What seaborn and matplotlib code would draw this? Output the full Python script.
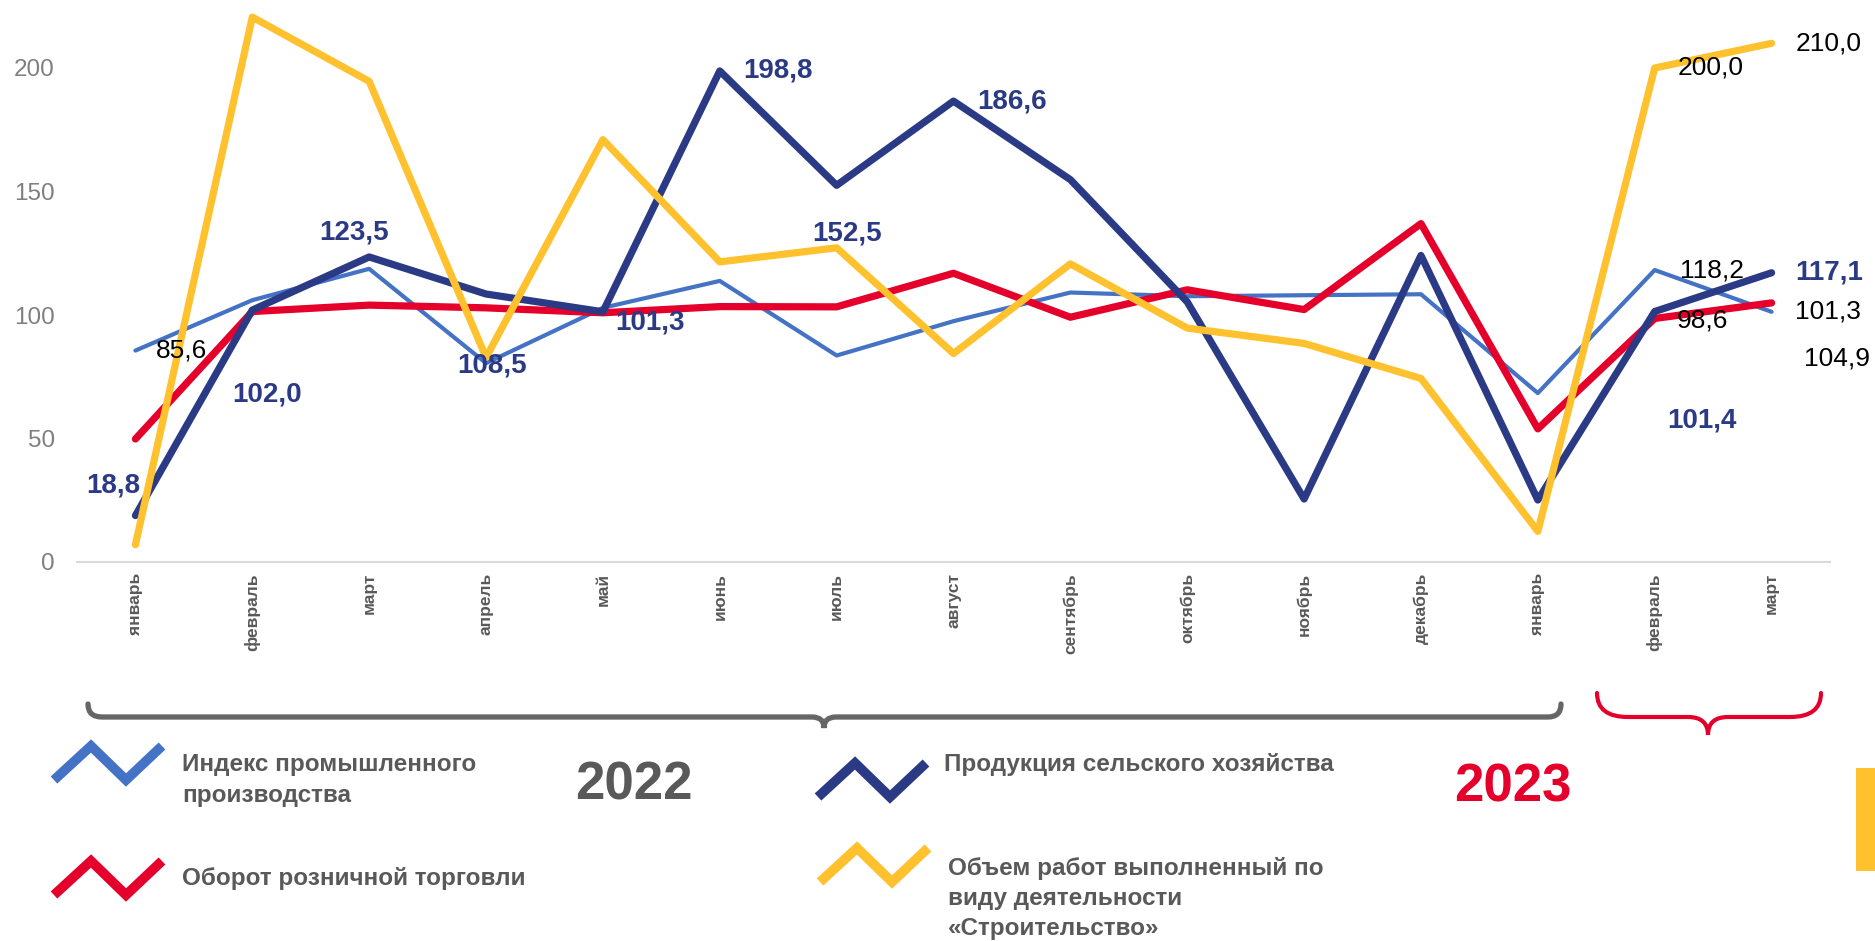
import matplotlib
matplotlib.use("Agg")
import matplotlib.pyplot as plt
import seaborn as sns
import pandas as pd
from matplotlib.lines import Line2D
from matplotlib.path import Path
from matplotlib.patches import PathPatch, Rectangle

# ---------------- data ----------------
months = ['январь', 'февраль', 'март', 'апрель', 'май', 'июнь', 'июль', 'август',
          'сентябрь', 'октябрь', 'ноябрь', 'декабрь', 'январь', 'февраль', 'март']
industrial = [85.6, 106.0, 118.7, 80.5, 102.9, 113.8, 83.6, 97.5, 109.1, 107.6, 108.0, 108.4, 68.4, 118.2, 101.3]
agriculture = [18.8, 102.0, 123.5, 108.5, 101.3, 198.8, 152.5, 186.6, 154.8, 105.3, 25.5, 124.1, 25.1, 101.4, 117.1]
retail = [49.8, 101.4, 104.0, 102.9, 100.9, 103.4, 103.3, 116.9, 99.1, 110.2, 102.2, 137.0, 53.9, 98.6, 104.9]
construction = [7.0, 220.6, 194.6, 82.8, 171.0, 121.5, 127.2, 84.4, 120.7, 94.7, 88.5, 74.3, 12.4, 200.0, 210.0]
yticks = [0, 50, 100, 150, 200]

legend_names = ['Индекс промышленного\nпроизводства', 'Продукция сельского хозяйства',
                'Оборот розничной торговли', 'Объем работ выполненный по\nвиду деятельности\n«Строительство»']
year_labels = ['2022', '2023']

# ---------------- style ----------------
sns.set_theme(style='white')
plt.rcParams['font.family'] = ['Liberation Sans', 'DejaVu Sans']

C_IND = '#4472C4'
C_AGR = '#2B3A85'
C_RET = '#E4002B'
C_CON = '#FFC22E'
C_GRAY = '#595959'

W, H = 1875, 941
fig = plt.figure(figsize=(W / 100, H / 100), dpi=100)
fig.patch.set_facecolor('white')

def fx(x):
    return x / W

def fy(y):
    return 1 - y / H

ax_left, ax_right, ax_zero_y = 77, 1830, 562
px_per_unit = 2.47
ymax = ax_zero_y / px_per_unit
ax = fig.add_axes([fx(ax_left), fy(ax_zero_y), (ax_right - ax_left) / W, ax_zero_y / H])
ax.set_facecolor('none')

pos = list(range(len(months)))
df = pd.DataFrame({'pos': pos, 'ind': industrial, 'agr': agriculture, 'ret': retail, 'con': construction})

series = [('ind', C_IND, 3.0, 2), ('ret', C_RET, 5.2, 3), ('agr', C_AGR, 5.2, 4), ('con', C_CON, 5.2, 5)]
for col, color, lw, z in series:
    sns.lineplot(data=df, x='pos', y=col, ax=ax, color=color, linewidth=lw, zorder=z,
                 clip_on=False, solid_joinstyle='round', solid_capstyle='round')

ax.set_xlim(-0.5, len(months) - 0.5)
ax.set_ylim(0, ymax)
ax.set_xticks(pos)
ax.set_xticklabels(months, rotation=90, fontsize=12.5, fontweight='bold', color=C_GRAY, va='top')
ax.set_yticks(yticks)
ax.set_yticklabels([str(t) for t in yticks], fontsize=17.5, color='#7F7F7F')
ax.tick_params(axis='x', length=0, pad=8)
ax.tick_params(axis='y', length=0, pad=16)
ax.set_xlabel('')
ax.set_ylabel('')
for s in ['top', 'right', 'left']:
    ax.spines[s].set_visible(False)
ax.spines['bottom'].set_color('#D9D9D9')
ax.spines['bottom'].set_linewidth(1.5)
ax.grid(False)

def fmt(v):
    return f"{v:.1f}".replace('.', ',')

# data labels: (values, index, dx, dy, bold-navy?)
labels = [
    (agriculture, 0, -22, 30, True), (agriculture, 1, 15, -84, True), (agriculture, 2, -15, 24, True),
    (agriculture, 3, 6, -71, True), (agriculture, 4, 47, -11, True), (agriculture, 5, 58, 0, True),
    (agriculture, 6, 10, -48, True), (agriculture, 7, 59, 0, True), (agriculture, 13, 47, -109, True),
    (agriculture, 14, 58, 0, True),
    (industrial, 0, 46, 0, False), (industrial, 13, 57, 0, False), (industrial, 14, 56, 0, False),
    (retail, 13, 48, -2, False), (retail, 14, 65, -56, False),
    (construction, 13, 56, 0, False), (construction, 14, 57, 0, False),
]
for vals, i, dx, dy, navy in labels:
    ax.annotate(fmt(vals[i]), xy=(i, vals[i]), xytext=(dx, dy), textcoords='offset pixels',
                ha='center', va='center', zorder=10, annotation_clip=False,
                fontsize=20 if navy else 19, fontweight='bold' if navy else 'normal',
                color=C_AGR if navy else 'black')

# ---------------- braces ----------------
def brace_path(pts, codes):
    verts = [(fx(x), fy(y)) for x, y in pts]
    return Path(verts, codes)

M, L, Q = Path.MOVETO, Path.LINETO, Path.CURVE3
brace_codes = [M, Q, Q, L, Q, Q, Q, Q, L, Q, Q]
gray_pts = [(88, 704), (88, 717), (102, 717), (812, 717), (824, 717), (824, 728),
            (824, 717), (836, 717), (1548, 717), (1561, 717), (1561, 704)]
fig.add_artist(PathPatch(brace_path(gray_pts, brace_codes), transform=fig.transFigure,
                         fill=False, edgecolor='#666666', linewidth=3.8, capstyle='round'))
red_pts = [(1597, 693), (1597, 717), (1628, 717), (1688, 717), (1708, 717), (1708, 735),
           (1708, 717), (1728, 717), (1790, 717), (1821, 717), (1821, 693)]
fig.add_artist(PathPatch(brace_path(red_pts, brace_codes), transform=fig.transFigure,
                         fill=False, edgecolor=C_RET, linewidth=3.0, capstyle='round'))

# ---------------- legend ----------------
def icon(x0, y0, color):
    xs = [x0 + 4, x0 + 41, x0 + 76, x0 + 112]
    ys = [y0 + 37, y0 + 3, y0 + 37, y0 + 3]
    fig.add_artist(Line2D([fx(x) for x in xs], [fy(y) for y in ys], transform=fig.transFigure,
                          color=color, linewidth=7, solid_joinstyle='miter', solid_capstyle='butt'))

icon(50, 743, C_IND)
icon(814, 760, C_AGR)
icon(50, 858, C_RET)
icon(816, 845, C_CON)

leg_kw = dict(fontsize=17.5, fontweight='bold', color=C_GRAY, ha='left')

def legend_text(x, y0, text, step, va):
    for k, line in enumerate(text.split('\n')):
        fig.text(fx(x), fy(y0 + k * step), line, va=va, **leg_kw)

legend_text(182, 771, legend_names[0], 31, 'baseline')
legend_text(944, 765, legend_names[1], 31, 'center')
legend_text(182, 878, legend_names[2], 31, 'center')
legend_text(948, 875, legend_names[3], 30, 'baseline')

fig.text(fx(634), fy(800), year_labels[0], fontsize=38, fontweight='bold', color=C_GRAY,
         ha='center', va='baseline')
fig.text(fx(1513), fy(801), year_labels[1], fontsize=38, fontweight='bold', color=C_RET,
         ha='center', va='baseline')

fig.add_artist(Rectangle((fx(1856), fy(871)), (1875 - 1856) / W, (871 - 768) / H,
                         transform=fig.transFigure, color=C_CON, linewidth=0))

fig.savefig('out.png', dpi=100, facecolor='white')
